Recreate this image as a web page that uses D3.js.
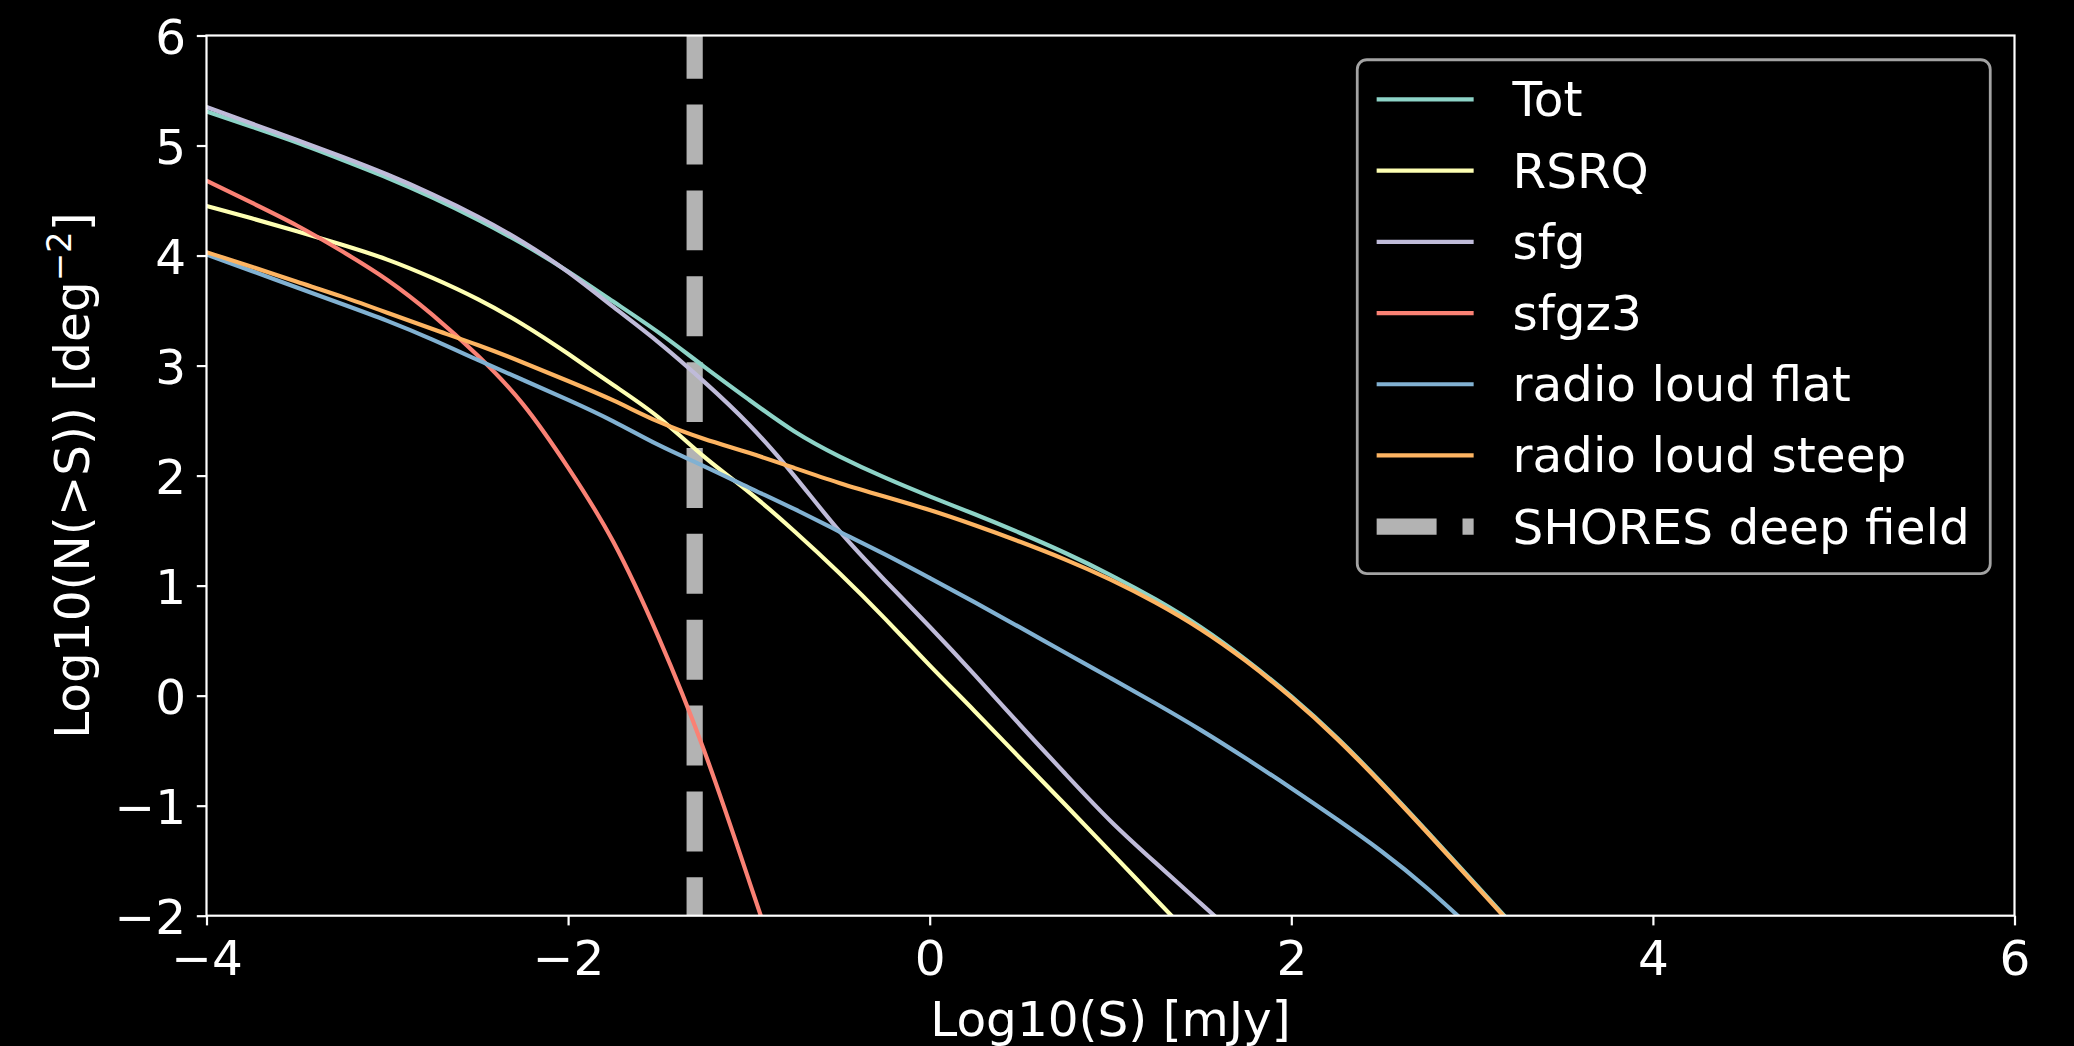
<!DOCTYPE html>
<html>
<head>
<meta charset="utf-8">
<script src="https://cdn.jsdelivr.net/npm/d3@7"></script>
<style>
  body { margin: 0; background: #000; }
  svg text { font-family: "DejaVu Sans", sans-serif; fill: #fff; }
</style>
</head>
<body>
<div class="D3"></div>
<script>
//log10 flux grid shared by all curves (each curve uses the first n points)
var logS = [-4, -3.75, -3.5, -3.25, -3, -2.75, -2.5, -2.25, -2, -1.75, -1.5, -1.25, -1, -0.75, -0.5, -0.25,
  0, 0.25, 0.5, 0.75, 1, 1.25, 1.5, 1.75, 2, 2.25, 2.5, 2.75, 3, 3.25];

//log10 N(>S)
var totVals = [5.31, 5.17, 5.03, 4.87, 4.71, 4.53, 4.33, 4.11, 3.86, 3.58, 3.31, 2.99, 2.69, 2.39, 2.17, 1.98,
  1.81, 1.65, 1.48, 1.30, 1.10, 0.88, 0.63, 0.33, 0.0, -0.37, -0.79, -1.23, -1.68, -2.13];
var rsrqVals = [4.45, 4.34, 4.22, 4.10, 3.97, 3.80, 3.61, 3.38, 3.11, 2.82, 2.55, 2.16, 1.86, 1.50, 1.12, 0.71,
  0.27, -0.14, -0.57, -0.99, -1.42, -1.85, -2.28];
var sfgVals = [5.35, 5.20, 5.05, 4.90, 4.74, 4.56, 4.36, 4.13, 3.86, 3.53, 3.22, 2.86, 2.48, 2.01, 1.48, 1.05,
  0.63, 0.19, -0.27, -0.71, -1.15, -1.52, -1.89, -2.26];
var sfgz3Vals = [4.68, 4.48, 4.28, 4.04, 3.79, 3.47, 3.10, 2.68, 2.08, 1.44, 0.55, -0.45, -1.68, -2.9];
var flatVals = [4.01, 3.86, 3.71, 3.56, 3.41, 3.24, 3.05, 2.87, 2.69, 2.50, 2.27, 2.09, 1.89, 1.70, 1.49, 1.29,
  1.07, 0.85, 0.62, 0.39, 0.16, -0.07, -0.31, -0.57, -0.84, -1.12, -1.41, -1.74, -2.12];
var steepVals = [4.03, 3.90, 3.76, 3.63, 3.48, 3.33, 3.19, 3.03, 2.86, 2.69, 2.48, 2.33, 2.21, 2.07, 1.93, 1.81,
  1.69, 1.55, 1.40, 1.24, 1.06, 0.85, 0.61, 0.32, -0.01, -0.38, -0.80, -1.24, -1.69, -2.14];

var seriesNames = ["Tot", "RSRQ", "sfg", "sfgz3", "radio loud flat", "radio loud steep"];
var seriesValues = [totVals, rsrqVals, sfgVals, sfgz3Vals, flatVals, steepVals];
var seriesColors = ["#8dd3c7", "#feffb3", "#bfbbd9", "#fa8174", "#81b1d2", "#fdb462"];

//deep field flux limit (log10 of 0.05 mJy)
var shoresLabel = "SHORES deep field";
var shoresLogS = -1.3;

var xTickValues = [-4, -2, 0, 2, 4, 6];
var yTickValues = [-2, -1, 0, 1, 2, 3, 4, 5, 6];

//set svg and chart dimensions and margins
var svgWidth = 2074;
var svgHeight = 1046;

var margin = {
  top: 35.5,
  right: 59.5,
  bottom: 130.3,
  left: 206.5
};

var chartWidth = svgWidth - margin.left - margin.right;
var chartHeight = svgHeight - margin.top - margin.bottom;

var fontSize = 48.5;
var spineWidth = 2.2;
var tickLength = 9.7;
var curveWidth = 4.17;
var shoresWidth = 16.2;

var svg = d3.select(".D3")
  .append("svg")
  .attr("width", svgWidth)
  .attr("height", svgHeight)
  .style("background", "#000");

var chartGroup = svg.append("g")
  .attr("transform", `translate(${margin.left}, ${margin.top})`);

//scales
var xLinearScale = d3.scaleLinear()
  .domain([-4, 6])
  .range([0, chartWidth]);

var yLinearScale = d3.scaleLinear()
  .domain([-2, 6])
  .range([chartHeight, 0]);

//clip curves to the axes box
chartGroup.append("clipPath")
  .attr("id", "plot-clip")
  .append("rect")
  .attr("width", chartWidth)
  .attr("height", chartHeight);

var plotArea = chartGroup.append("g")
  .attr("clip-path", "url(#plot-clip)");

//vertical dashed line for the deep field limit, under the curves
plotArea.append("line")
  .attr("x1", xLinearScale(shoresLogS))
  .attr("x2", xLinearScale(shoresLogS))
  .attr("y1", yLinearScale(6))
  .attr("y2", yLinearScale(-2))
  .attr("stroke", "#b3b3b3")
  .attr("stroke-width", shoresWidth)
  .attr("stroke-dasharray", `${3.7 * shoresWidth},${1.6 * shoresWidth}`)
  .attr("stroke-dashoffset", 16.8);

//smooth the hand-read points a little
var line = d3.line()
  .x(d => xLinearScale(d[0]))
  .y(d => yLinearScale(d[1]))
  .curve(d3.curveBasis);

seriesValues.forEach(function(vals, i) {
  var pts = vals.map((v, j) => [logS[j], v]);
  plotArea.append("path")
    .datum(pts)
    .attr("fill", "none")
    .attr("stroke", seriesColors[i])
    .attr("stroke-width", curveWidth)
    .attr("stroke-linejoin", "round")
    .attr("d", line);
});

//axes (ticks only, spines drawn as a box)
var bottomAxis = d3.axisBottom(xLinearScale)
  .tickValues(xTickValues)
  .tickSize(tickLength)
  .tickPadding(15.5);

var leftAxis = d3.axisLeft(yLinearScale)
  .tickValues(yTickValues)
  .tickSize(tickLength)
  .tickPadding(10.8);

var xAxis = chartGroup.append("g")
  .attr("transform", `translate(0, ${chartHeight})`)
  .call(bottomAxis);

var yAxis = chartGroup.append("g")
  .call(leftAxis);

yAxis.selectAll(".tick text").attr("dy", "0.365em");

[xAxis, yAxis].forEach(function(ax) {
  ax.select(".domain").remove();
  ax.attr("font-family", null).attr("font-size", null);
  ax.selectAll(".tick line")
    .attr("stroke", "#fff")
    .attr("stroke-width", spineWidth);
  ax.selectAll(".tick text")
    .attr("fill", "#fff")
    .style("font-size", fontSize + "px");
});

chartGroup.append("rect")
  .attr("width", chartWidth)
  .attr("height", chartHeight)
  .attr("fill", "none")
  .attr("stroke", "#fff")
  .attr("stroke-width", spineWidth);

//axis labels
chartGroup.append("text")
  .attr("x", chartWidth / 2)
  .attr("y", chartHeight + 120.5)
  .attr("text-anchor", "middle")
  .style("font-size", fontSize + "px")
  .text("Log10(S) [mJy]");

var yLabel = chartGroup.append("text")
  .attr("transform", `translate(${89 - margin.left}, ${chartHeight / 2}) rotate(-90)`)
  .attr("text-anchor", "middle")
  .style("font-size", fontSize + "px");

yLabel.append("tspan").text("Log10(N(>S)) [deg");
yLabel.append("tspan")
  .attr("dy", -18)
  .style("font-size", (fontSize * 0.7) + "px")
  .text("\u22122");
yLabel.append("tspan")
  .attr("dy", 18)
  .text("]");

//legend, upper right
var legendPad = 0.5 * fontSize;
var legendWidth = 633;
var rowStep = 71.2;
var legendHeight = 513.8;
var legendX = chartWidth - legendPad - legendWidth;
var legendY = legendPad;

var legend = chartGroup.append("g")
  .attr("transform", `translate(${legendX}, ${legendY})`);

legend.append("rect")
  .attr("width", legendWidth)
  .attr("height", legendHeight)
  .attr("rx", 0.2 * fontSize)
  .attr("fill", "#000")
  .attr("fill-opacity", 0.8)
  .attr("stroke", "#a3a3a3")
  .attr("stroke-width", 2.78);

var legendItems = seriesNames.map((n, i) => ({ name: n, color: seriesColors[i], dashed: false }));
legendItems.push({ name: shoresLabel, color: "#b3b3b3", dashed: true });

var handleX0 = 0.4 * fontSize;
var handleX1 = handleX0 + 2 * fontSize;
var textX = handleX1 + 0.8 * fontSize;
var firstRow = 39.7;

var rows = legend.selectAll(".legend-row")
  .data(legendItems)
  .enter()
  .append("g")
  .attr("class", "legend-row")
  .attr("transform", (d, i) => `translate(0, ${firstRow + i * rowStep})`);

rows.append("line")
  .attr("x1", handleX0)
  .attr("x2", handleX1)
  .attr("stroke", d => d.color)
  .attr("stroke-width", d => d.dashed ? shoresWidth : curveWidth)
  .attr("stroke-dasharray", d => d.dashed ? `${3.7 * shoresWidth},${1.6 * shoresWidth}` : null);

rows.append("text")
  .attr("x", textX)
  .attr("y", 17)
  .style("font-size", fontSize + "px")
  .text(d => d.name);
</script>
</body>
</html>
